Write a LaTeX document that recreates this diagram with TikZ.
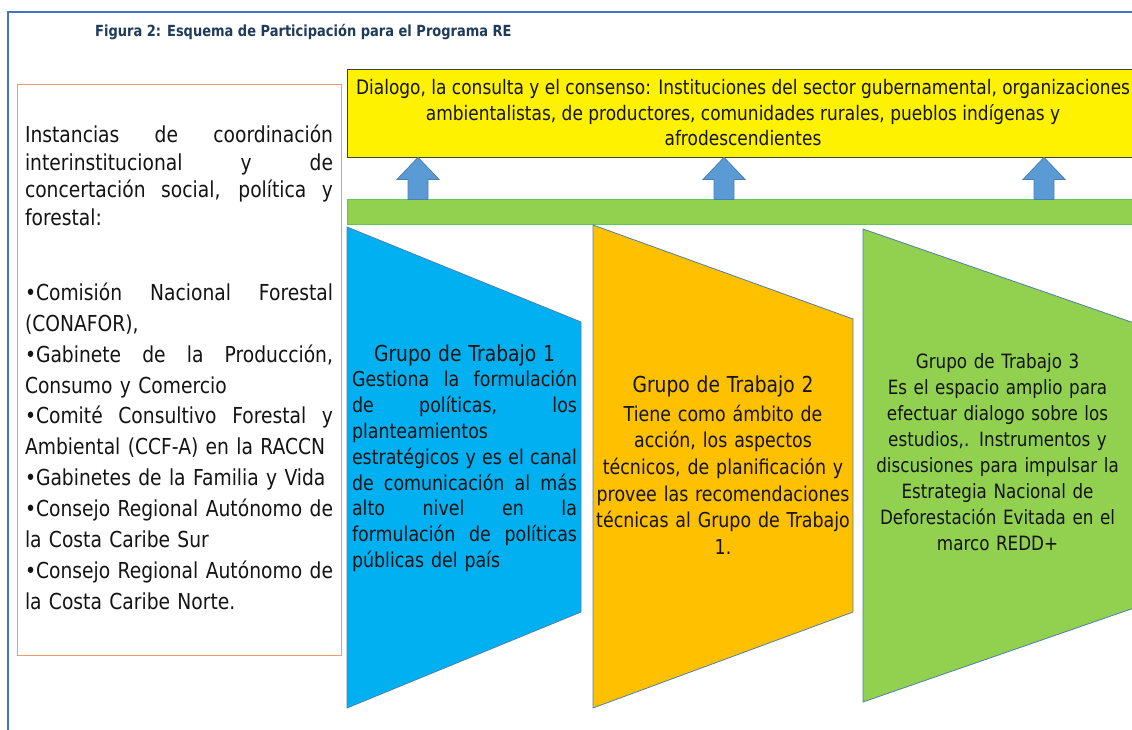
\documentclass[tikz,border=0pt]{standalone}
\usepackage{fontspec}
\setmainfont[FakeStretch=0.85]{DejaVu Sans}
\usepackage{xcolor}
\usepackage{tikz}
\usetikzlibrary{calc}

\definecolor{marcoazul}{HTML}{4472C4}
\definecolor{titulo}{HTML}{1F3B5C}
\definecolor{bordenaranja}{HTML}{EE9A6C}
\definecolor{bordegris}{HTML}{4F7FAF}
\definecolor{celeste}{HTML}{00B0F0}
\definecolor{ambar}{HTML}{FFC000}
\definecolor{verde}{HTML}{92D050}
\definecolor{bordeverde}{HTML}{5CC85C}
\definecolor{flecha}{HTML}{5B9BD5}
\definecolor{texto}{HTML}{141414}

% linea justificada de ancho fijo
\newcommand{\jl}[2][308pt]{\makebox[#1][s]{\spaceskip=.3em plus 1fill\relax #2}}

\tikzstyle{cuadro} = [rectangle, draw=bordenaranja, line width=1pt, minimum width=324, minimum height=570]
\tikzstyle{lista} = [text width=308pt, align=left, text=texto, font=\fontsize{22}{27.5}\selectfont]
\tikzstyle{amarillo} = [rectangle, draw=black!75, line width=0.8pt, fill=yellow, minimum width=787, minimum height=88]
\tikzstyle{textoamarillo} = [align=center, text=texto, font=\fontsize{20}{25.5}\selectfont]
\tikzstyle{barraverde} = [rectangle, draw=bordeverde, line width=1pt, fill=verde, minimum width=787, minimum height=24]
\tikzstyle{flechabloque} = [draw=bordegris, fill=flecha, line width=0.8pt]
\tikzstyle{trapecio} = [draw=bordegris, line width=0.8pt]
\tikzstyle{grupo} = [text=texto]

\begin{document}
\begin{tikzpicture}[x=1pt, y=-1pt, every node/.style={inner sep=0pt}]
	\useasboundingbox[fill=white] (0,0) rectangle (1132,730);

	% marco y titulo
	\draw[marcoazul, line width=1.5pt] (8,730) -- (8,12) -- (1132,12);
	\node (titulo) [anchor=base west, text=titulo, font=\bfseries\fontsize{15.3}{18}\selectfont] at (95,37) {Figura 2: Esquema de Participación para el Programa RE};

	% instancias de coordinacion
	\node (marcoinst) [cuadro] at (179,370) {};
	\node (instancias) [lista] at (179,367.5) {\jl{Instancias de coordinación}\\ \jl{interinstitucional y de}\\ \jl{concertación social, política y}\\ forestal:\\[47.5pt]
		\jl{•Comisión Nacional Forestal}\\[3.4pt] (CONAFOR),\\[3.4pt]
		\jl{•Gabinete de la Producción,}\\[3.4pt] Consumo y Comercio\\[3.4pt]
		\jl{•Comité Consultivo Forestal y}\\[3.4pt] Ambiental (CCF-A) en la RACCN\\[3.4pt]
		•Gabinetes de la Familia y Vida\\[3.4pt]
		\jl{•Consejo Regional Autónomo de}\\[3.4pt] la Costa Caribe Sur\\[3.4pt]
		\jl{•Consejo Regional Autónomo de}\\[3.4pt] la Costa Caribe Norte.};

	% dialogo y barra
	\node (dialogo) [amarillo] at (740.5,113) {};
	\node (textodialogo) [textoamarillo] at (743,113) {Dialogo, la consulta y el consenso: Instituciones del sector gubernamental, organizaciones\\ ambientalistas, de productores, comunidades rurales, pueblos indígenas y\\ afrodescendientes};
	\node (barra) [barraverde] at (740.5,212) {};

	\foreach \ax in {418,724,1044}{
		\coordinate (pie) at (barra.north -| \ax,0);
		\coordinate (punta) at (dialogo.south -| \ax,0);
		\draw[flechabloque] ($(pie)+(-10,0)$) -- ($(punta)+(-10,22)$) -- ($(punta)+(-21,22)$) -- (punta) -- ($(punta)+(21,22)$) -- ($(punta)+(10,22)$) -- ($(pie)+(10,0)$) -- cycle;
	}

	% grupos de trabajo
	\draw[trapecio, fill=celeste] (347,227) -- (581,322) -- (581,612) -- (347,708) -- cycle;
	\draw[trapecio, fill=ambar] (593,225) -- (853,319) -- (853,612) -- (593,708) -- cycle;
	\draw[trapecio, fill=verde] (863,229) -- (1134,323) -- (1134,608) -- (863,702) -- cycle;

	\node (grupo1) [grupo, text width=225pt, align=left, font=\fontsize{20.5}{25.8}\selectfont] at (464.5,458) {\makebox[225pt]{\fontsize{22}{26}\selectfont Grupo de Trabajo 1}\\ \jl[225pt]{Gestiona la formulación}\\ \jl[225pt]{de políticas, los}\\ planteamientos\\ \jl[225pt]{estratégicos y es el canal}\\ \jl[225pt]{de comunicación al más}\\ \jl[225pt]{alto nivel en la}\\ \jl[225pt]{formulación de políticas}\\ públicas del país};
	\node (grupo2) [grupo, text width=280pt, align=center, font=\fontsize{20.5}{26.6}\selectfont] at (723,465) {{\fontsize{22}{26}\selectfont Grupo de Trabajo 2}\\[2.4pt] Tiene como ámbito de\\ acción, los aspectos\\ técnicos, de planificación y\\ provee las recomendaciones\\ técnicas al Grupo de Trabajo\\ 1.};
	\node (grupo3) [grupo, text width=280pt, align=center, font=\fontsize{19.7}{26}\selectfont] at (997.5,452.5) {Grupo de Trabajo 3\\ Es el espacio amplio para\\ efectuar dialogo sobre los\\ estudios,. Instrumentos y\\ discusiones para impulsar la\\ Estrategia Nacional de\\ Deforestación Evitada en el\\ marco REDD+};

\end{tikzpicture}
\end{document}
